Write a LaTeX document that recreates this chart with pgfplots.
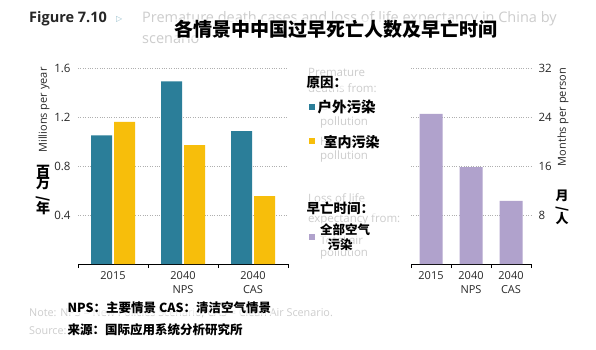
\documentclass[border=0pt]{standalone}
\usepackage{fontspec}
\setmainfont{Open Sans}
\newfontfamily\cjk{Noto Sans CJK SC}
\newfontfamily\dejavu{DejaVu Sans}
\usepackage{pgfplots}
\pgfplotsset{compat=1.18}
\definecolor{cblue}{RGB}{43,126,153}
\definecolor{cyellow}{RGB}{247,190,11}
\definecolor{cpurple}{RGB}{176,162,204}
\definecolor{faded}{RGB}{205,205,205}
\definecolor{txt}{RGB}{40,40,40}
\definecolor{gridc}{RGB}{175,175,175}
\newcommand{\fs}[1]{\fontsize{#1bp}{#1bp}\selectfont}
\newcommand{\fsl}[2]{\fontsize{#1bp}{#2bp}\selectfont}
\pgfplotsset{
  common/.style={
    scale only axis, height=196bp,
    xmin=-0.5, xmax=2.5, ymin=0,
    axis x line*=bottom,
    y axis line style={draw=none},
    x axis line style={draw=black, line width=0.8pt, -},
    xtick={-0.5,0.5,1.5,2.5},
    x tick label as interval,
    xticklabels={2015,{2040\\NPS},{2040\\CAS}},
    xtick style={draw=black, line width=0.8pt},
    major tick length=4bp,
    tick align=outside,
    ytick style={draw=none},
    ymajorgrids,
    grid style={dotted, line width=1pt, gridc},
    xticklabel style={font=\fsl{11}{14.5}, align=center, text=txt, inner sep=3bp},
    yticklabel style={font=\fs{11.5}, text=txt},
    /pgf/number format/assume math mode=true,
    /pgf/number format/.cd, fixed, precision=1, fixed zerofill,
  }
}
\begin{document}
\begin{tikzpicture}
\path[use as bounding box, fill=white] (0bp,0bp) rectangle (596bp,-350bp);

% left axis
\begin{axis}[common,
  at={(78bp,-264bp)}, anchor=south west,
  width=210bp, ymax=1.6,
  ybar=2bp, bar width=21bp,
  ytick={0.4,0.8,1.2,1.6},
]
\addplot[fill=cblue, draw=none] coordinates {(0,1.05) (1,1.49) (2,1.085)};
\addplot[fill=cyellow, draw=none] coordinates {(0,1.16) (1,0.97) (2,0.555)};
\end{axis}

% right axis
\begin{axis}[common,
  at={(411bp,-264bp)}, anchor=south west,
  width=120bp, ymax=32,
  axis y line*=right,
  ybar, bar width=23bp,
  ytick={8,16,24,32},
  /pgf/number format/.cd, precision=0, fixed zerofill=false,
]
\addplot[fill=cpurple, draw=none] coordinates {(0,24.5) (1,15.8) (2,10.3)};
\end{axis}

\begin{scope}[x=1bp,y=-1bp]
% faded English text
\begin{scope}[every node/.style={text=faded, anchor=west, inner sep=0}]
\node[font=\fs{14.5}] at (142,19) {Premature death cases and loss of life expectancy in China by};
\node[font=\fs{14.5}] at (142,38) {scenario};
\node[font=\fs{11.5}] at (308,72) {Premature};
\node[font=\fs{11.5}] at (308,88) {deaths from:};
\node[font=\fs{11.5}] at (320,106) {Outdoor};
\node[font=\fs{11.5}] at (320,123) {pollution};
\node[font=\fs{11.5}] at (320,141) {Household};
\node[font=\fs{11.5}] at (320,157) {pollution};
\node[font=\fs{11.5}] at (308,198) {Loss of life};
\node[font=\fs{11.5}] at (308,219) {expectancy from:};
\node[font=\fs{11.5}] at (320,240) {Total air};
\node[font=\fs{11.5}] at (320,254) {pollution};
\node[font=\fs{10.8}] at (29,313) {Note: NPS = New Policies Scenario; CAS = Clean Air Scenario.};
\node[font=\fs{10.8}] at (29,331) {Source: IIASA.};
\end{scope}

\node[anchor=west, inner sep=0, text=black!85, font=\bfseries\fs{14.5}] at (29,19) {Figure 7.10};
\node[anchor=west, inner sep=0, text=cblue!50, font=\dejavu\fs{8}] at (116,19) {▷};

% axis titles
\node[rotate=90, text=txt, font=\fs{11}] at (44,110) {Millions per year};
\node[rotate=90, text=txt, font=\fs{11}] at (563,117) {Months per person};
\node[align=center, inner sep=0, text=black, font=\cjk\bfseries\fsl{14}{12.5}] at (43,190) {百\\万\\\rotatebox{90}{/}\\年};
\node[align=center, inner sep=0, text=black, font=\cjk\bfseries\fsl{13}{11.5}] at (562,207) {月\\\rotatebox{90}{/}\\人};

% legend
\node[inner sep=0] at (312,107) {\textcolor{cblue}{\rule{6bp}{6bp}}};
\node[inner sep=0] at (312,141) {\textcolor{cyellow}{\rule{6bp}{6bp}}};
\node[inner sep=0] at (312,237) {\textcolor{cpurple}{\rule{6bp}{6bp}}};
\begin{scope}[every node/.style={fill=white, fill opacity=0.6, text opacity=1, inner sep=0.5bp, text=black}]
\node[anchor=west, font=\cjk\bfseries\fs{13.5}] at (306,83) {原因：};
\node[anchor=west, font=\cjk\bfseries\fs{14.5}] at (317,107) {户外污染};
\node[anchor=west, font=\cjk\bfseries\fs{14}] at (323,142) {室内污染};
\node[anchor=west, font=\cjk\bfseries\fs{13.5}] at (306,208) {早亡时间：};
\node[font=\cjk\bfseries\fs{12.5}] at (345,230) {全部空气};
\node[font=\cjk\bfseries\fs{12.5}] at (340,245) {污染};
\node[font=\cjk\bfseries\fs{19}] at (336.5,29) {各情景中中国过早死亡人数及早亡时间};
\node[anchor=west, font=\cjk\bfseries\fs{12.5}] at (67,308) {NPS：主要情景 CAS：清洁空气情景};
\node[anchor=west, font=\cjk\bfseries\fs{12.5}] at (67,330) {来源：国际应用系统分析研究所};
\end{scope}
\end{scope}
\end{tikzpicture}
\end{document}
